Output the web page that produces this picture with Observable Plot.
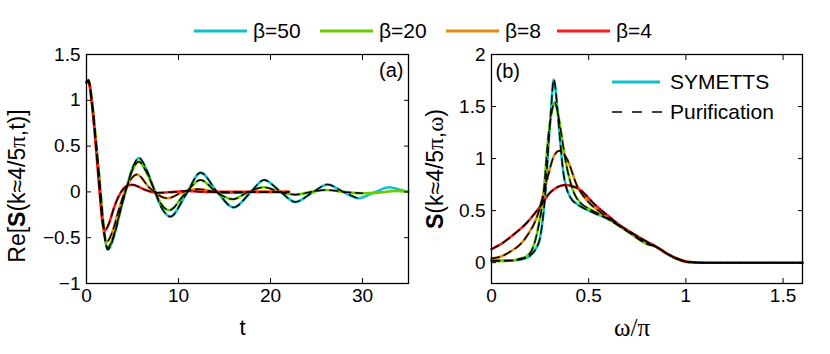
<!DOCTYPE html>
<html><head><meta charset="utf-8">
<script src="https://cdn.jsdelivr.net/npm/d3@7"></script>
<script src="https://cdn.jsdelivr.net/npm/@observablehq/plot@0.6"></script>
<style>
body{margin:0;background:#fff;font-family:"Liberation Sans",Arial,Helvetica,sans-serif;}
#wrap{position:relative;width:830px;height:354px;overflow:hidden;}
#legend{position:relative;height:44px;}
.item{position:absolute;top:19px;height:24px;display:flex;align-items:center;font-size:21px;line-height:24px;color:#000;}
.item svg{margin-right:6px;}
#row{display:flex;}
.inset{position:absolute;height:24px;display:flex;align-items:center;font-size:21px;line-height:24px;color:#000;}
.inset svg{margin-right:8px;}
</style></head><body>
<div id="wrap">
  <div id="legend"></div>
  <div id="row"></div>
</div>
<script>
// ---------- data ----------
const betas = ["β=50", "β=20", "β=8", "β=4"];
const colors = ["#10C0C6", "#66CC00", "#E38A12", "#FF1A1A"];
const methods = ["SYMETTS", "Purification"];

// panel (a): Re S(k,t)
const tA50 = [0, 0.2, 0.6, 1.0, 1.5, 1.9, 2.3, 3.0, 3.7, 4.4, 5.0, 5.7, 6.5, 7.3, 8.2, 9.1, 10.8, 12.4, 14.2, 16.0, 17.7, 19.3, 21.0, 22.7, 24.5, 26.2, 27.9, 29.5, 31.2, 32.9, 34.2, 35];
const reA50 = [1.2, 1.22, 0.98, 0.58, 0.02, -0.42, -0.63, -0.48, -0.2, 0.06, 0.26, 0.37, 0.25, 0.04, -0.18, -0.27, -0.03, 0.21, 0.0, -0.17, -0.02, 0.13, 0.01, -0.11, -0.01, 0.08, 0.0, -0.07, -0.01, 0.05, 0.02, 0.0];
const tA20 = [0, 0.2, 0.6, 1.0, 1.5, 1.9, 2.3, 3.0, 3.7, 4.4, 5.0, 5.7, 6.5, 7.3, 8.1, 9.0, 10.7, 12.4, 14.1, 15.9, 17.6, 19.3, 21.0, 22.7, 24.4, 26.1, 28.0, 30.0, 32.0, 33.5, 35];
const reA20 = [1.2, 1.22, 0.98, 0.58, 0.03, -0.41, -0.61, -0.46, -0.19, 0.06, 0.24, 0.33, 0.22, 0.04, -0.13, -0.2, -0.02, 0.13, 0.0, -0.08, 0.0, 0.05, 0.0, -0.03, 0.0, 0.02, 0.0, -0.015, -0.005, 0.01, 0.0];
const tA8 = [0, 0.2, 0.6, 1.0, 1.45, 1.8, 2.15, 2.8, 3.5, 4.4, 5.5, 6.8, 8.8, 10.5, 12.2, 14.0, 16.0, 18.0, 20.0, 22.0];
const reA8 = [1.2, 1.22, 0.97, 0.56, 0.02, -0.38, -0.55, -0.44, -0.2, 0.06, 0.19, 0.05, -0.07, 0.0, 0.03, 0.0, -0.01, 0.0, 0.0, 0.0];
const tA4 = [0, 0.2, 0.6, 1.0, 1.4, 1.7, 2.0, 2.5, 3.0, 3.7, 4.4, 5.0, 6.2, 7.7, 9.5, 11.0, 13.0, 16.0, 19.0, 22.0];
const reA4 = [1.19, 1.21, 0.95, 0.52, 0.03, -0.3, -0.42, -0.33, -0.17, -0.01, 0.065, 0.078, 0.03, -0.01, 0.0, 0.01, 0.0, 0.0, 0.0, 0.0];
const purifEndA = [30, 30, 22, 22];

// panel (b): S(k,ω)
const wB50 = [0, 0.1, 0.15, 0.2, 0.23, 0.25, 0.277, 0.294, 0.306, 0.32, 0.34, 0.354, 0.37, 0.405, 0.45, 0.5, 0.55, 0.6, 0.7, 0.8, 0.85, 0.9, 0.95, 1.0, 1.05, 1.1, 1.6];
const sB50 = [0.02, 0.02, 0.03, 0.07, 0.14, 0.24, 0.67, 1.15, 1.46, 1.76, 1.46, 1.15, 0.86, 0.63, 0.55, 0.5, 0.46, 0.42, 0.3, 0.19, 0.15, 0.09, 0.04, 0.01, 0.002, 0, 0];
const wB20 = [0, 0.1, 0.15, 0.18, 0.21, 0.234, 0.268, 0.294, 0.31, 0.325, 0.34, 0.354, 0.38, 0.42, 0.46, 0.5, 0.55, 0.6, 0.7, 0.8, 0.85, 0.9, 0.95, 1.0, 1.05, 1.1, 1.6];
const sB20 = [0.015, 0.02, 0.04, 0.06, 0.13, 0.28, 0.67, 1.24, 1.45, 1.54, 1.45, 1.30, 0.99, 0.69, 0.57, 0.52, 0.47, 0.42, 0.3, 0.18, 0.15, 0.09, 0.04, 0.01, 0.002, 0, 0];
const wB8 = [0, 0.05, 0.1, 0.15, 0.18, 0.234, 0.285, 0.32, 0.35, 0.39, 0.44, 0.5, 0.55, 0.6, 0.7, 0.8, 0.85, 0.9, 0.95, 1.0, 1.05, 1.1, 1.6];
const sB8 = [0.04, 0.06, 0.11, 0.18, 0.25, 0.44, 0.79, 1.02, 1.075, 0.99, 0.74, 0.58, 0.5, 0.43, 0.31, 0.2, 0.15, 0.09, 0.04, 0.01, 0.002, 0, 0];
const wB4 = [0, 0.05, 0.1, 0.18, 0.25, 0.3, 0.38, 0.456, 0.525, 0.6, 0.66, 0.7, 0.8, 0.85, 0.9, 0.95, 1.0, 1.05, 1.1, 1.6];
const sB4 = [0.13, 0.18, 0.25, 0.38, 0.54, 0.67, 0.746, 0.70, 0.57, 0.45, 0.36, 0.31, 0.2, 0.15, 0.09, 0.045, 0.012, 0.002, 0, 0];

// ticks and labels
const xTicksA = [0, 10, 20, 30];
const yTicksA = [-1, -0.5, 0, 0.5, 1, 1.5];
const xTicksB = [0, 0.5, 1, 1.5];
const yTicksB = [0, 0.5, 1, 1.5, 2];
const labelA = "Re[S(k≈4/5π,t)]";
const labelB = "S(k≈4/5π,ω)";
const xLabelA = "t";
const xLabelB = "ω/π";

// ---------- build ----------
const FONT = '"Liberation Sans", Arial, Helvetica, sans-serif';
const SERIF = '"Liberation Serif", "Times New Roman", serif';
const zip = (xs, ys) => xs.map((x, i) => ({x, y: ys[i]}));
const seriesA = [zip(tA50, reA50), zip(tA20, reA20), zip(tA8, reA8), zip(tA4, reA4)];
const seriesB = [zip(wB50, sB50), zip(wB20, sB20), zip(wB8, sB8), zip(wB4, sB4)];
const fmt = d => d < 0 ? "\u2212" + Math.abs(d) : String(d);
const blank = () => "";

function frameAxes(xt, yt) {
  return [
    Plot.axisX({ticks: xt, tickSize: 0, tickPadding: 5, tickFormat: fmt, label: null, fontSize: 19}),
    Plot.axisX({ticks: xt, tickSize: -5, tickFormat: blank, label: null, strokeWidth: 1}),
    Plot.axisX({anchor: "top", ticks: xt, tickSize: -5, tickFormat: blank, label: null, strokeWidth: 1}),
    Plot.axisY({ticks: yt, tickSize: 0, tickPadding: 6, tickFormat: fmt, label: null, fontSize: 19}),
    Plot.axisY({ticks: yt, tickSize: -5, tickFormat: blank, label: null, strokeWidth: 1}),
    Plot.axisY({anchor: "right", ticks: yt, tickSize: -5, tickFormat: blank, label: null, strokeWidth: 1})
  ];
}
function curves(series, purifEnd) {
  const m = [];
  series.forEach((s, i) => m.push(Plot.line(s, {x: "x", y: "y", stroke: colors[i], strokeWidth: 2.6, curve: "monotone-x"})));
  series.forEach((s, i) => {
    const d = purifEnd ? s.filter(p => p.x <= purifEnd[i]) : s;
    m.push(Plot.line(d, {x: "x", y: "y", stroke: "black", strokeWidth: 1.5, strokeDasharray: "8,5", curve: "monotone-x"}));
  });
  return m;
}

const plotA = Plot.plot({
  width: 415, height: 310,
  marginLeft: 86, marginRight: 7, marginTop: 10, marginBottom: 71,
  style: {fontFamily: FONT, fontSize: "19px", color: "black", background: "white", overflow: "visible"},
  x: {domain: [0, 35]},
  y: {domain: [-1, 1.5]},
  marks: [
    ...curves(seriesA, purifEndA),
    ...frameAxes(xTicksA, yTicksA),
    Plot.frame({stroke: "black", strokeWidth: 1.3}),
    Plot.text(["(a)"], {text: d => d, frameAnchor: "top-right", textAnchor: "end", lineAnchor: "middle", dx: -5, dy: 16, fontSize: 20}),
    Plot.text([xLabelA], {text: d => d, frameAnchor: "bottom", textAnchor: "middle", lineAnchor: "middle", dx: -5, dy: 44, fontSize: 22}),
    Plot.text([labelA], {text: d => d, frameAnchor: "left", rotate: -90, textAnchor: "middle", lineAnchor: "middle", dx: -69, dy: 17, fontSize: 23})
  ]
});

const plotB = Plot.plot({
  width: 415, height: 310,
  marginLeft: 76, marginRight: 28, marginTop: 10, marginBottom: 71,
  style: {fontFamily: FONT, fontSize: "19px", color: "black", background: "white", overflow: "visible"},
  x: {domain: [0, 1.6]},
  y: {domain: [-0.2, 2]},
  marks: [
    ...curves(seriesB, null),
    ...frameAxes(xTicksB, yTicksB),
    Plot.frame({stroke: "black", strokeWidth: 1.3}),
    Plot.text(["(b)"], {text: d => d, frameAnchor: "top-left", textAnchor: "start", lineAnchor: "middle", dx: 4, dy: 17, fontSize: 20}),
    Plot.text([xLabelB], {text: d => d, frameAnchor: "bottom", textAnchor: "middle", lineAnchor: "middle", dx: -15, dy: 44, fontSize: 25, fontFamily: SERIF}),
    Plot.text([labelB], {text: d => d, frameAnchor: "left", rotate: -90, textAnchor: "middle", lineAnchor: "middle", dx: -56, dy: 0, fontSize: 23})
  ]
});

function richify(svg, plain, parts) {
  svg.querySelectorAll("text").forEach(t => {
    if (t.textContent === plain) {
      t.textContent = "";
      for (const [s, st] of parts) {
        const ts = document.createElementNS("http://www.w3.org/2000/svg", "tspan");
        ts.textContent = s;
        if (st === "b") ts.setAttribute("font-weight", "bold");
        if (st === "s") ts.setAttribute("font-family", SERIF);
        t.appendChild(ts);
      }
    }
  });
}
richify(plotA, labelA, [["Re[", ""], ["S", "b"], ["(k≈4/5", ""], ["π", "s"], [",t)]", ""]]);
richify(plotB, labelB, [["S", "b"], ["(k≈4/5", ""], ["π", "s"], [",", ""], ["ω", "s"], [")", ""]]);

document.getElementById("row").append(plotA, plotB);

// top legend
const legend = document.getElementById("legend");
const legendLeft = [194, 320, 446, 557];
betas.forEach((b, i) => {
  const it = document.createElement("div");
  it.className = "item";
  it.style.left = legendLeft[i] + "px";
  it.innerHTML = `<svg width="53" height="6"><line x1="0" x2="53" y1="3" y2="3" stroke="${colors[i]}" stroke-width="3"/></svg><span>${b}</span>`;
  legend.append(it);
});

// inset legend for panel (b)
const wrap = document.getElementById("wrap");
const insetTop = [70, 100];
methods.forEach((m, i) => {
  const it = document.createElement("div");
  it.className = "inset";
  it.style.left = "612px";
  it.style.top = insetTop[i] + "px";
  const line = i === 0
    ? `<line x1="0" x2="48" y1="3" y2="3" stroke="${colors[0]}" stroke-width="3"/>`
    : `<line x1="0" x2="50" y1="3" y2="3" stroke="black" stroke-width="1.6" stroke-dasharray="10,10"/>`;
  it.innerHTML = `<svg width="50" height="6">${line}</svg><span>${m}</span>`;
  wrap.append(it);
});
</script>
</body></html>
